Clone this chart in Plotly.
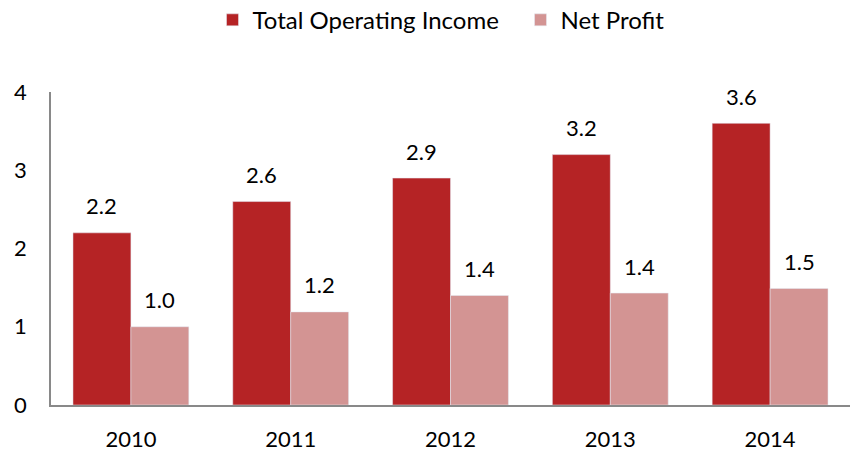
import plotly.graph_objects as go

years = ["2010", "2011", "2012", "2013", "2014"]
total_operating_income = [2.2, 2.6, 2.9, 3.2, 3.6]
net_profit = [1.0, 1.19, 1.4, 1.43, 1.49]
y_ticks = [0, 1, 2, 3, 4]

FONT = "Lato, Open Sans, sans-serif"
c_dark = "#B52325"
c_light = "#D39493"

fig = go.Figure()
fig.add_trace(go.Bar(x=years, y=total_operating_income, name="Total Operating Income",
                     marker=dict(color=c_dark)))
fig.add_trace(go.Bar(x=years, y=net_profit, name="Net Profit",
                     marker=dict(color=c_light)))

# value labels: x given as category index so they don't disturb the axis range
for vals, shift in ((total_operating_income, -29), (net_profit, 29)):
    for i, v in enumerate(vals):
        fig.add_annotation(x=i, y=v, xref="x", yref="y", text=f"{v:.1f}",
                           showarrow=False, xshift=shift, yshift=27,
                           yanchor="middle",
                           font=dict(family=FONT, size=22, color="#000"))

fig.update_layout(
    width=850, height=450,
    margin=dict(l=51, r=0, t=92, b=45, autoexpand=False),
    paper_bgcolor="white", plot_bgcolor="white",
    barmode="group", bargap=0.275, bargroupgap=0,
    font=dict(family=FONT, size=22, color="#000"),
    legend=dict(orientation="h", x=0.25, xanchor="left", xref="container",
                y=0.955, yanchor="middle", yref="container",
                entrywidth=263, entrywidthmode="pixels",
                font=dict(family=FONT, size=24, color="#000"),
                traceorder="normal"),
    xaxis=dict(type="category", range=[-0.5, len(years) - 0.5],
               showline=True, linecolor="#898989", linewidth=1.5,
               ticks="outside", ticklen=14, tickcolor="rgba(0,0,0,0)",
               showgrid=False, automargin=False,
               tickfont=dict(family=FONT, size=22)),
    yaxis=dict(range=[0, 4], tickvals=y_ticks, showline=True, linecolor="#898989",
               linewidth=1.5, ticks="outside", ticklen=18, tickcolor="rgba(0,0,0,0)",
               showgrid=False, zeroline=False, automargin=False,
               tickfont=dict(family=FONT, size=22)),
)

fig.write_html("out.html", config={"displayModeBar": False},
               post_script="document.body.style.margin='0';")
